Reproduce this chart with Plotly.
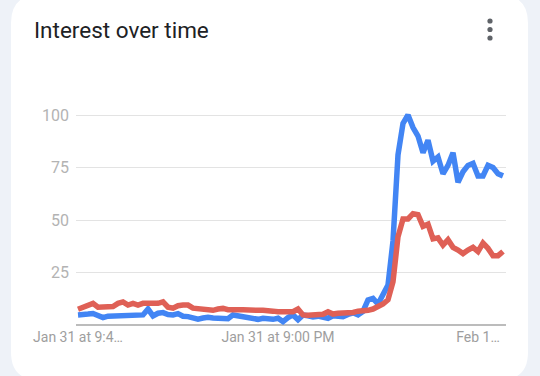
import plotly.graph_objects as go

# ---- data ----
blue_values = [4.8, 4.8, 5.2, 5.5, 4.5, 3.5, 4.2, 4.3, 4.8, 5.0,
               4.8, 4.8, 4.8, 4.8, 7.6, 4.3, 5.6, 5.9, 5.0, 4.8,
               5.4, 4.2, 4.0, 3.2, 2.8, 3.3, 3.7, 3.3, 3.2, 3.2,
               3.0, 4.8, 4.3, 4.0, 3.5, 2.7, 2.7, 3.2, 3.0, 2.7,
               3.2, 1.6, 3.5, 4.8, 2.5, 4.8, 4.4, 3.8, 4.2, 4.0,
               3.2, 4.4, 4.0, 4.0, 5.0, 5.8, 4.8, 6.5, 11.9, 12.7,
               10.0, 15.0, 19.0, 40.0, 81.0, 96.0, 100.0, 94.0, 90.0, 82.0,
               88.0, 78.0, 80.0, 72.0, 76.0, 82.0, 68.0, 73.0, 76.0, 77.0,
               71.0, 71.0, 76.0, 75.0, 72.0, 71.0]
red_values = [7.5, 8.3, 9.5, 10.3, 8.5, 8.5, 8.5, 8.8, 10.3, 11.0,
              9.5, 10.3, 9.5, 10.3, 10.3, 10.3, 10.3, 11.0, 8.5, 8.0,
              9.2, 9.5, 9.5, 8.0, 7.6, 7.3, 7.3, 7.0, 7.6, 7.9,
              7.3, 7.0, 7.3, 7.3, 7.0, 7.0, 7.0, 7.0, 7.0, 6.6,
              6.3, 6.3, 6.3, 6.3, 7.6, 4.8, 4.6, 4.7, 4.8, 5.1,
              6.3, 5.2, 5.6, 5.6, 5.8, 6.0, 6.6, 6.6, 7.0, 7.6,
              8.5, 10.0, 12.0, 20.6, 42.0, 50.5, 50.5, 53.0, 52.5, 47.0,
              48.0, 41.0, 41.5, 38.0, 40.6, 37.0, 35.7, 34.0, 35.7, 37.0,
              35.0, 39.0, 36.5, 33.0, 33.0, 35.0]
time_index = list(range(len(blue_values)))
x_tick_positions = [0, 40, 80]
x_tick_labels = ["Jan 31 at 9:4\u2026", "Jan 31 at 9:00 PM", "Feb 1\u2026"]
y_tick_values = [25, 50, 75, 100]
title_text = "Interest over time"

# ---- layout geometry (pixels) ----
W, H = 540, 376
L, R, T, B = 76, 34, 104, 49
PW, PH = W - L - R, H - T - B


def px(xp):
    return (xp - L) / PW


def py(yp):
    return (H - B - yp) / PH


fig = go.Figure()
fig.add_trace(go.Scatter(x=time_index, y=blue_values, mode="lines",
                         line=dict(color="#4285f4", width=5.5), showlegend=False,
                         hoverinfo="skip"))
fig.add_trace(go.Scatter(x=time_index, y=red_values, mode="lines",
                         line=dict(color="#df6056", width=5.5), showlegend=False,
                         hoverinfo="skip"))

# card background (rounded rect)
cx0, cx1, cy0, cy1, r = 11, 528, -5, 380, 28
path = (f"M {px(cx0+r)},{py(cy0)} L {px(cx1-r)},{py(cy0)} "
        f"Q {px(cx1)},{py(cy0)} {px(cx1)},{py(cy0+r)} "
        f"L {px(cx1)},{py(cy1-r)} Q {px(cx1)},{py(cy1)} {px(cx1-r)},{py(cy1)} "
        f"L {px(cx0+r)},{py(cy1)} Q {px(cx0)},{py(cy1)} {px(cx0)},{py(cy1-r)} "
        f"L {px(cx0)},{py(cy0+r)} Q {px(cx0)},{py(cy0)} {px(cx0+r)},{py(cy0)} Z")
shapes = [dict(type="path", path=path, xref="paper", yref="paper",
               fillcolor="white", line=dict(width=0), layer="below")]
# baseline
shapes.append(dict(type="line", xref="paper", x0=0, x1=1, yref="y", y0=0, y1=0,
                   line=dict(color="#a6a6a6", width=1.5), layer="below"))
# menu dots
for dy in (21, 29.5, 38):
    rr = 2.6
    shapes.append(dict(type="circle", xref="paper", yref="paper",
                       x0=px(490 - rr), x1=px(490 + rr), y0=py(dy + rr), y1=py(dy - rr),
                       fillcolor="#5f6368", line=dict(width=0)))

fig.update_layout(
    width=W, height=H,
    margin=dict(l=L, r=R, t=T, b=B),
    paper_bgcolor="#eef2f8",
    plot_bgcolor="rgba(0,0,0,0)",
    font=dict(family="Roboto", color="#202124"),
    title=dict(text=title_text, x=34 / W, xanchor="left", xref="container",
               y=1 - 30 / H, yanchor="middle", yref="container",
               font=dict(family="Roboto", size=22.5, color="#202124")),
    shapes=shapes,
    xaxis=dict(range=[-0.4, 85.6], tickvals=x_tick_positions, ticktext=x_tick_labels,
               showgrid=False, zeroline=False, showline=False, ticks="",
               tickfont=dict(family="Roboto", size=14, color="#9e9e9e"),
               fixedrange=True),
    yaxis=dict(range=[-2 / 2.1, 221 / 2.1], tickvals=y_tick_values,
               showgrid=True, gridcolor="#e3e3e3", gridwidth=1,
               zeroline=False, showline=False, ticks="",
               ticklabelstandoff=6,
               tickfont=dict(family="Roboto", size=16, color="#b3b3b3"),
               fixedrange=True),
)

fig.write_html("out.html")
